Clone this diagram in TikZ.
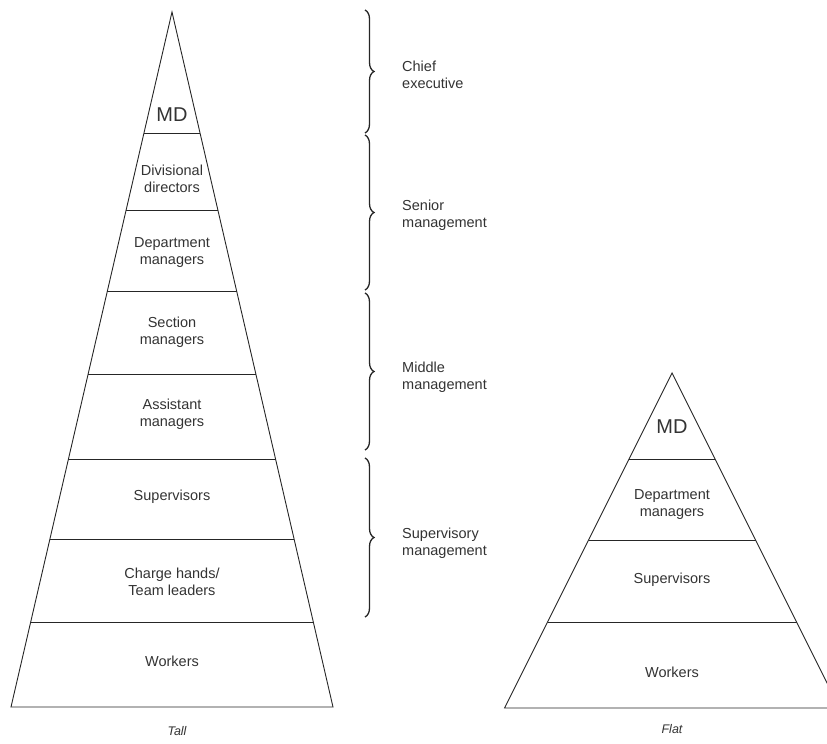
\documentclass[tikz,border=0pt]{standalone}
\usepackage{fontspec}
\setmainfont{Liberation Sans}
\usetikzlibrary{calc, decorations.pathreplacing}

\begin{document}
\begin{tikzpicture}[
    x=1pt, y=-1pt,
    layer/.style={font=\fontsize{14.5}{17}\selectfont, align=center, text=black!80, inner sep=0pt},
    apex/.style={font=\fontsize{20}{22}\selectfont, text=black!80, inner sep=0pt},
    level/.style={font=\fontsize{14.5}{17}\selectfont, align=left, anchor=west, text=black!80, inner sep=0pt},
    caption/.style={font=\fontsize{12.5}{14}\selectfont\itshape, text=black!80, inner sep=0pt},
    edge/.style={line width=0.9pt, black!85},
    bracket/.style={decorate, decoration={brace, amplitude=9pt}, line width=1.3pt, black!85},
]
\clip (0,0) rectangle (827,744);

% Tall pyramid
\coordinate (tA) at (172,12);
\coordinate (tL) at (11,707);
\coordinate (tR) at (333,707);
\draw[edge] (tL) -- (tA) -- (tR) -- cycle;
\foreach \y in {133,210,291,374,459,539,622}{
  \pgfmathsetmacro\t{(\y-12)/695}
  \draw[edge] ($(tA)!\t!(tL)$) -- ($(tA)!\t!(tR)$);
}

\node[apex] (tMD) at (172,115) {MD};
\node[layer] (tDiv) at (172,179) {Divisional\\directors};
\node[layer] (tDept) at (172,253) {Department\\managers};
\node[layer] (tSect) at (172,332) {Section\\managers};
\node[layer] (tAsst) at (172,414) {Assistant\\managers};
\node[layer] (tSup) at (172,497) {Supervisors};
\node[layer] (tCharge) at (172,582) {Charge hands/\\Team leaders};
\node[layer] (tWork) at (172,661) {Workers};
\node[caption] (tall) at (177,731) {Tall};

% Flat pyramid
\coordinate (fA) at (672,373);
\coordinate (fL) at (504.5,708);
\coordinate (fR) at (839.5,708);
\draw[edge] (fL) -- (fA) -- (fR) -- cycle;
\foreach \y in {459,540,622}{
  \pgfmathsetmacro\t{(\y-373)/335}
  \draw[edge] ($(fA)!\t!(fL)$) -- ($(fA)!\t!(fR)$);
}

\node[apex] (fMD) at (672,427) {MD};
\node[layer] (fDept) at (672,505) {Department\\managers};
\node[layer] (fSup) at (672,580) {Supervisors};
\node[layer] (fWork) at (672,672) {Workers};
\node[caption] (flat) at (672,729) {Flat};

% Levels of management
\coordinate (c1) at (365,10);
\coordinate (c2) at (365,133);
\coordinate (s1) at (365,135);
\coordinate (s2) at (365,290);
\coordinate (m1) at (365,293);
\coordinate (m2) at (365,450);
\coordinate (v1) at (365,458);
\coordinate (v2) at (365,617);
\draw[bracket] (c1) -- (c2);
\draw[bracket] (s1) -- (s2);
\draw[bracket] (m1) -- (m2);
\draw[bracket] (v1) -- (v2);

\node[level] (chief) at (402,75) {Chief\\executive};
\node[level] (senior) at (402,215) {Senior\\management};
\node[level] (middle) at (402,377) {Middle\\management};
\node[level] (superv) at (402,543) {Supervisory\\management};

\end{tikzpicture}
\end{document}
